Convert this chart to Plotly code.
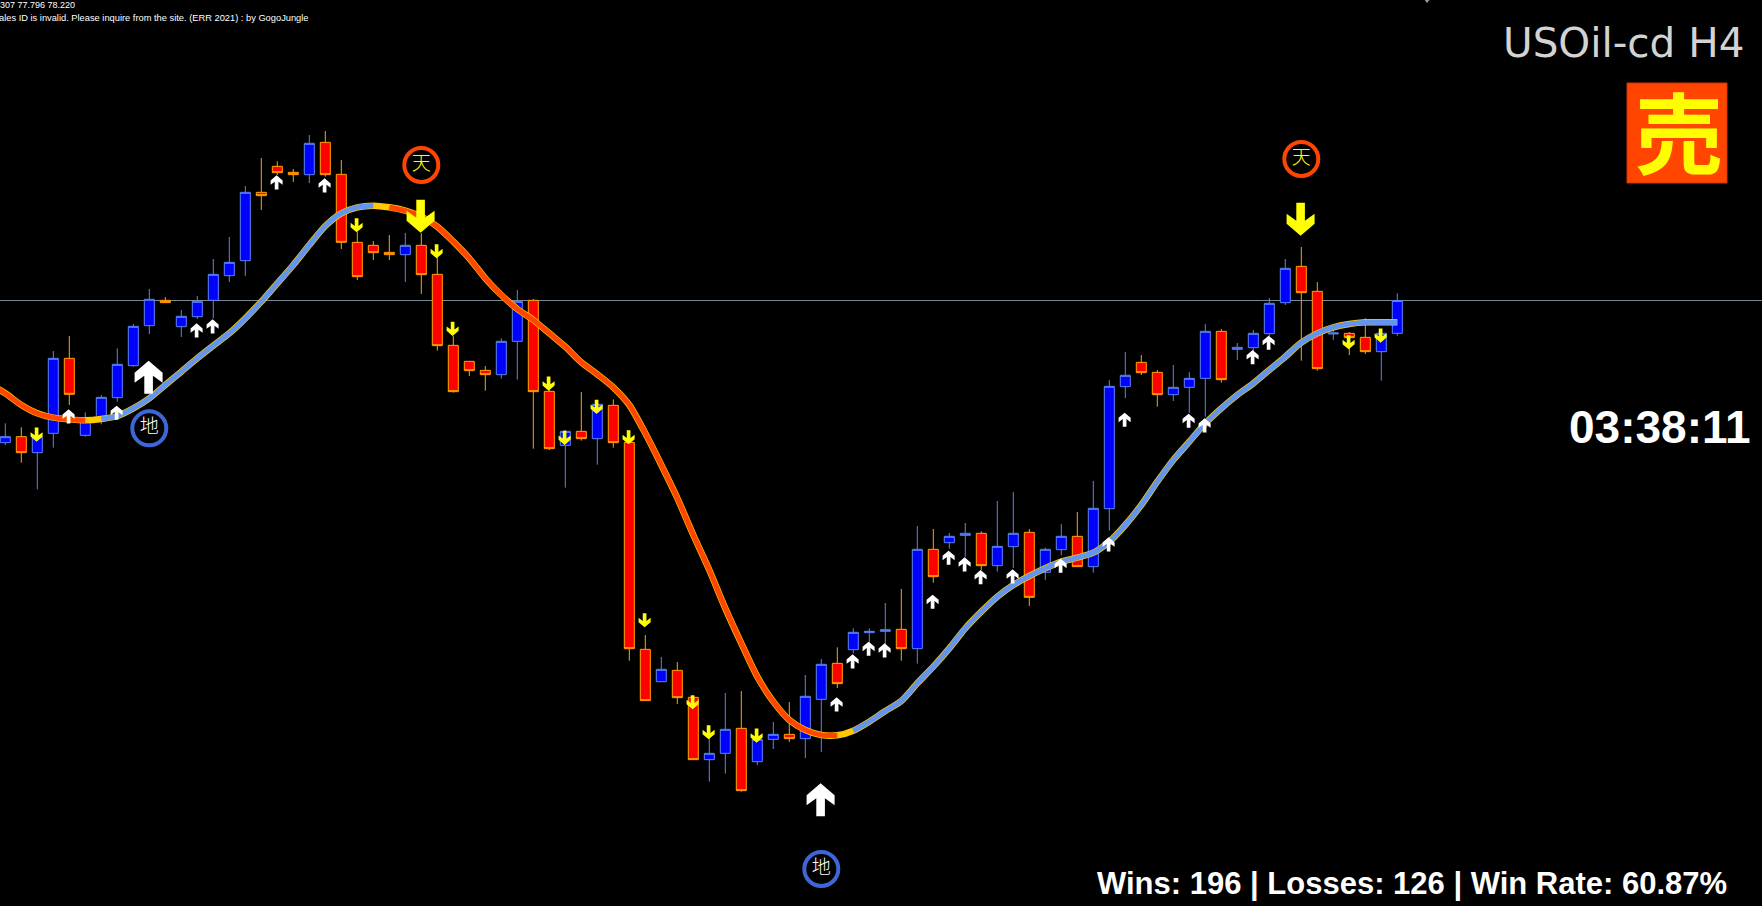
import plotly.graph_objects as go

# --- USOil-cd H4 bars, one row per bar: open, high, low, close ---
opens = [
    76.514, 76.586, 76.394, 76.626, 77.526, 76.602, 76.778, 77.054, 77.438, 77.918,
    78.222, 77.906, 78.026, 78.222, 78.518, 78.698, 79.518, 79.830, 79.758, 79.730,
    80.118, 79.734, 78.918, 78.882, 78.798, 78.770, 78.882, 78.534, 77.682, 77.490,
    77.382, 77.330, 77.730, 78.222, 77.130, 76.482, 76.650, 76.562, 76.962, 76.518,
    74.034, 73.646, 73.782, 73.458, 72.710, 72.786, 73.086, 72.686, 72.954, 73.014,
    72.962, 73.434, 73.866, 74.030, 74.234, 74.250, 74.274, 74.042, 75.234, 75.314,
    75.402, 75.426, 75.038, 75.266, 75.438, 74.958, 75.230, 75.390, 75.026, 75.722,
    77.186, 77.478, 77.358, 77.090, 77.178, 77.286, 77.850, 77.634, 77.654, 77.822,
    78.194, 78.630, 78.330, 77.818, 77.826, 77.778, 77.606, 77.826,
]
highs = [
    76.746, 76.698, 76.666, 77.614, 77.794, 76.878, 77.086, 77.646, 77.938, 78.358,
    78.262, 78.106, 78.274, 78.718, 78.982, 79.594, 79.930, 79.890, 79.798, 80.206,
    80.254, 79.906, 79.042, 78.934, 79.006, 79.030, 79.026, 78.746, 77.794, 77.494,
    77.434, 77.766, 78.346, 78.238, 77.182, 76.666, 77.122, 77.026, 77.034, 76.534,
    74.206, 73.942, 73.882, 73.474, 72.970, 73.510, 73.534, 73.030, 73.162, 73.402,
    73.726, 73.918, 74.058, 74.286, 74.286, 74.590, 74.758, 75.514, 75.478, 75.430,
    75.550, 75.450, 75.814, 75.922, 75.478, 75.254, 75.538, 75.682, 76.054, 77.266,
    77.602, 77.566, 77.386, 77.446, 77.362, 77.938, 77.878, 77.710, 77.866, 78.250,
    78.718, 78.862, 78.442, 77.902, 77.842, 78.006, 77.866, 78.307,
]
lows = [
    76.486, 76.274, 75.954, 76.454, 76.966, 76.586, 76.734, 77.006, 77.426, 77.818,
    78.190, 77.782, 77.998, 78.006, 78.442, 78.514, 79.306, 79.726, 79.642, 79.630,
    79.706, 78.838, 78.466, 78.706, 78.706, 78.442, 78.298, 77.618, 77.114, 77.314,
    77.138, 77.282, 77.270, 76.442, 76.426, 75.974, 76.538, 76.250, 76.454, 73.898,
    73.414, 73.642, 73.378, 72.706, 72.446, 72.542, 72.326, 72.646, 72.838, 72.922,
    72.730, 72.802, 73.570, 73.986, 74.110, 74.062, 73.898, 73.862, 74.834, 75.242,
    75.142, 74.986, 74.966, 75.010, 74.554, 74.866, 75.162, 75.022, 74.954, 75.458,
    77.050, 77.326, 76.946, 77.014, 76.870, 76.826, 77.234, 77.506, 77.606, 77.786,
    78.166, 77.498, 77.378, 77.746, 77.566, 77.578, 77.258, 77.796,
]
closes = [
    76.586, 76.394, 76.586, 77.526, 77.094, 76.798, 77.058, 77.454, 77.910, 78.234,
    78.194, 78.030, 78.210, 78.534, 78.678, 79.518, 79.478, 79.754, 79.730, 80.106,
    79.730, 78.918, 78.506, 78.794, 78.770, 78.882, 78.530, 77.678, 77.126, 77.378,
    77.330, 77.730, 78.210, 77.126, 76.442, 76.650, 76.562, 76.974, 76.514, 74.042,
    73.418, 73.794, 73.454, 72.710, 72.786, 73.074, 72.338, 72.954, 73.014, 72.962,
    73.470, 73.854, 73.622, 74.238, 74.250, 74.270, 74.042, 75.234, 74.906, 75.390,
    75.426, 75.038, 75.270, 75.426, 74.658, 75.234, 75.390, 75.026, 75.726, 77.190,
    77.322, 77.354, 77.090, 77.178, 77.286, 77.850, 77.270, 77.658, 77.826, 78.186,
    78.606, 78.314, 77.402, 77.830, 77.774, 77.606, 77.826, 78.220,
]
last_price = 78.220

# moving average, first value belongs to the bar just off the left edge
ma_values = [
    77.218,
    77.106, 76.966, 76.866, 76.814, 76.794, 76.782, 76.798, 76.834, 76.926, 77.046,
    77.206, 77.366, 77.526, 77.678, 77.826, 78.006, 78.206, 78.426, 78.646, 78.886,
    79.114, 79.266, 79.338, 79.358, 79.338, 79.298, 79.226, 79.106, 78.926, 78.726,
    78.486, 78.286, 78.118, 77.986, 77.826, 77.666, 77.478, 77.334, 77.178, 76.966,
    76.626, 76.246, 75.850, 75.406, 74.986, 74.526, 74.106, 73.706, 73.406, 73.186,
    73.066, 73.006, 73.002, 73.058, 73.166, 73.294, 73.414, 73.626, 73.826, 74.046,
    74.286, 74.486, 74.666, 74.806, 74.914, 75.006, 75.086, 75.134, 75.194, 75.326,
    75.526, 75.766, 76.046, 76.306, 76.526, 76.746, 76.926, 77.086, 77.226, 77.386,
    77.546, 77.714, 77.826, 77.898, 77.938, 77.958, 77.958, 77.958,
]
# bar ranges of each colour of the average (first, last)
ma_down_spans = [(-1, 5), (24, 52)]
ma_up_spans = [(6, 23), (53, 87)]

# signals: bar number and the price the arrow tip sits on
buy_bars = [4, 7, 12, 13, 17, 20, 52, 53, 54, 55, 58, 59, 60, 61, 63, 66, 69, 70, 74, 75, 78, 79]
buy_tips = [76.914, 76.958, 77.946, 77.994, 79.722, 79.686, 73.458, 73.974, 74.126, 74.106, 74.690,
            75.218, 75.138, 74.986, 74.994, 75.122, 75.378, 76.874, 76.862, 76.806, 77.626, 77.798]
sell_bars = [2, 22, 27, 28, 34, 35, 37, 39, 40, 43, 44, 47, 84, 86]
sell_tips = [76.526, 79.038, 78.726, 77.794, 77.138, 76.486, 76.858, 76.494, 74.298, 73.314,
             72.954, 72.914, 77.634, 77.714]
big_buy_bars = [9, 51]
big_buy_tips = [77.498, 72.426]
big_sell_bars = [26, 81]
big_sell_tips = [79.034, 78.998]

bottom_bars = [9, 51]
bottom_prices = [76.686, 71.398]
top_bars = [26, 81]
top_prices = [79.846, 79.918]

symbol_label = "USOil-cd H4"
signal_label = "売"
countdown_label = "03:38:11"
stats_label = "Wins: 196 | Losses: 126 | Win Rate: 60.87%"
ohlc_label = "307 77.796 78.220"
error_label = "ales ID is invalid. Please inquire from the site. (ERR 2021) : by GogoJungle"

WIDTH = 1762
HEIGHT = 906
bars = list(range(len(opens)))
ma_bars = list(range(-1, len(opens)))

fig = go.Figure()

fig.add_trace(go.Candlestick(
    x=bars, open=opens, high=highs, low=lows, close=closes,
    increasing=dict(line=dict(color="#5A86F0", width=1), fillcolor="#0000FF"),
    decreasing=dict(line=dict(color="#FFA500", width=1), fillcolor="#FF0000"),
    whiskerwidth=0, hoverinfo="skip", showlegend=False,
))

# the gold line runs under the whole average, the joins stay gold
fig.add_trace(go.Scatter(
    x=ma_bars, y=ma_values, mode="lines",
    line=dict(color="#FFC800", width=6.5, shape="spline", smoothing=0.7),
    hoverinfo="skip", showlegend=False,
))
for spans, colour in [(ma_down_spans, "#FF4500"), (ma_up_spans, "#6495ED")]:
    for first, last in spans:
        fig.add_trace(go.Scatter(
            x=ma_bars[first + 1:last + 2], y=ma_values[first + 1:last + 2], mode="lines",
            line=dict(color=colour, width=5.2, shape="spline", smoothing=0.7),
            hoverinfo="skip", showlegend=False,
        ))

# ring markers with the kanji inside
for xs, ys, colour, word, text_colour in [
    (bottom_bars, bottom_prices, "#3F66D8", "地", "white"),
    (top_bars, top_prices, "#FF4500", "天", "yellow"),
]:
    fig.add_trace(go.Scatter(
        x=xs, y=ys, mode="markers+text",
        marker=dict(symbol="circle-open", size=34, color=colour, line=dict(width=4, color=colour)),
        text=[word] * len(xs), textposition="middle center",
        textfont=dict(family="Noto Sans CJK JP", size=19, color=text_colour, weight=300),
        hoverinfo="skip", showlegend=False,
    ))

# the little mark that pokes in at the top edge
fig.add_trace(go.Scatter(
    x=[88.86], y=[81.826], mode="markers", cliponaxis=False,
    marker=dict(symbol="triangle-down", size=6, color="#8FA0B0"),
    hoverinfo="skip", showlegend=False,
))


def add_arrows(xs, ys, colour, scale, pointing_up):
    # arrow outline in pixels from the tip, pixel y runs upward
    sign = -1 if pointing_up else 1
    outline = [(0, 0), (-14, 12), (-14, 22), (-4.3, 15), (-4.3, 33), (4.3, 33), (4.3, 15), (14, 22), (14, 12)]
    points = [f"{px * scale - 0.7:.2f},{sign * py * scale:.2f}" for px, py in outline]
    path = "M" + " L".join(points) + " Z"
    for x, y in zip(xs, ys):
        fig.add_shape(
            type="path", xsizemode="pixel", ysizemode="pixel",
            xanchor=x, yanchor=y, xref="x", yref="y", path=path,
            fillcolor=colour, line=dict(width=0), layer="above",
        )


add_arrows(buy_bars, buy_tips, "white", 0.43, True)
add_arrows(sell_bars, sell_tips, "yellow", 0.43, False)
add_arrows(big_buy_bars, big_buy_tips, "white", 1, True)
add_arrows(big_sell_bars, big_sell_tips, "yellow", 1, False)

fig.add_hline(y=last_price, line=dict(color="#778899", width=1), layer="below")

# signal box
fig.add_shape(
    type="rect", xref="paper", yref="paper",
    x0=1627 / WIDTH, x1=1727 / WIDTH, y0=1 - 183 / HEIGHT, y1=1 - 83 / HEIGHT,
    fillcolor="#FF4500", line=dict(color="#C83600", width=1),
)


def add_text(text, right, centre_y, family, size, colour, bold=False):
    fig.add_annotation(
        x=right / WIDTH, y=1 - centre_y / HEIGHT, xref="paper", yref="paper",
        xanchor="right", yanchor="middle", showarrow=False,
        text=f"<b>{text}</b>" if bold else text,
        font=dict(family=family, size=size, color=colour),
    )


add_text(symbol_label, 1746, 43, "DejaVu Sans", 40.5, "#D3D3D3")
add_text(signal_label, 1725, 129, "Noto Sans CJK JP", 88, "#FFFF00", bold=True)
add_text(countdown_label, 1753, 427, "Liberation Sans", 46, "white", bold=True)
add_text(stats_label, 1729, 883, "Liberation Sans", 31, "white", bold=True)
add_text(ohlc_label, 77, 5, "Liberation Sans", 9, "white")
add_text(error_label, 311, 18, "Liberation Sans", 9.3, "white")

fig.update_layout(
    width=WIDTH, height=HEIGHT,
    margin=dict(l=0, r=0, t=0, b=0),
    paper_bgcolor="black", plot_bgcolor="black",
    boxgap=0.375, boxgroupgap=0, showlegend=False,
    xaxis=dict(visible=False, range=[-0.33125, 109.79375], rangeslider=dict(visible=False)),
    yaxis=dict(visible=False, range=[70.954, 81.826]),
)

fig.write_html(
    "out.html",
    config={"displayModeBar": False},
    post_script="document.body.style.margin='0';document.body.style.background='black';",
)
